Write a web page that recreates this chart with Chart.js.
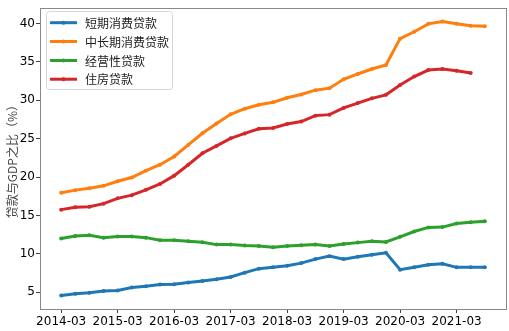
<!DOCTYPE html>
<html>
<head>
<meta charset="utf-8">
<script src="https://cdn.jsdelivr.net/npm/chart.js@4/dist/chart.umd.min.js"></script>
<style>
html,body{margin:0;padding:0;background:#fff;}
#wrap{width:509px;height:331px;position:relative;}
</style>
</head>
<body>
<div id="wrap"><canvas id="c" width="509" height="331"></canvas></div>
<script>
const quarters = [
  '2014-03','2014-06','2014-09','2014-12',
  '2015-03','2015-06','2015-09','2015-12',
  '2016-03','2016-06','2016-09','2016-12',
  '2017-03','2017-06','2017-09','2017-12',
  '2018-03','2018-06','2018-09','2018-12',
  '2019-03','2019-06','2019-09','2019-12',
  '2020-03','2020-06','2020-09','2020-12',
  '2021-03','2021-06','2021-09'
];
const tickLabels = ['2014-03','2015-03','2016-03','2017-03','2018-03','2019-03','2020-03','2021-03'];
const yTicks = [5,10,15,20,25,30,35,40];

const seriesNames = ['短期消费贷款','中长期消费贷款','经营性贷款','住房贷款'];
const shortTerm = [4.57,4.78,4.91,5.13,5.21,5.60,5.77,5.99,6.03,6.25,6.46,6.68,6.98,7.54,8.06,8.23,8.44,8.78,9.30,9.69,9.30,9.60,9.86,10.12,7.93,8.23,8.57,8.70,8.23,8.23,8.23];
const longTerm = [17.94,18.29,18.55,18.85,19.45,19.93,20.83,21.60,22.67,24.18,25.70,26.97,28.18,28.90,29.42,29.73,30.33,30.76,31.32,31.58,32.74,33.43,34.07,34.59,38.03,38.93,39.96,40.26,39.96,39.70,39.66];
const business = [12.00,12.31,12.40,12.10,12.26,12.26,12.10,11.75,11.75,11.62,11.49,11.19,11.19,11.06,11.02,10.85,11.02,11.10,11.19,11.00,11.28,11.45,11.62,11.54,12.20,12.90,13.43,13.47,13.94,14.12,14.25];
const housing = [15.75,16.06,16.14,16.53,17.22,17.64,18.33,19.10,20.18,21.60,23.10,24.05,25.04,25.68,26.29,26.38,26.90,27.23,28.00,28.13,29.00,29.64,30.25,30.71,32.00,33.09,33.94,34.07,33.86,33.55];

const colors = ['#1f77b4','#ff7f0e','#2ca02c','#d62728'];
const allSeries = [shortTerm, longTerm, business, housing];

const datasets = allSeries.map((vals, k) => ({
  label: seriesNames[k],
  data: vals.map((v, i) => ({x: i, y: v})),
  borderColor: colors[k],
  backgroundColor: colors[k],
  borderWidth: 3,
  pointRadius: 2,
  pointHoverRadius: 2,
  pointBorderWidth: 0,
  pointStyle: 'circle',
  tension: 0,
  fill: false
}));

const framePlugin = {
  id: 'frame',
  afterDraw(chart) {
    const {ctx, chartArea: a} = chart;
    ctx.save();
    ctx.strokeStyle = '#888';
    ctx.lineWidth = 1;
    ctx.strokeRect(Math.round(a.left) + 0.5, Math.round(a.top) + 0.5, Math.round(a.right - a.left), Math.round(a.bottom - a.top));
    // legend
    const lx = 46.5, ly = 11.5, lw = 126, lh = 78, r = 3;
    ctx.beginPath();
    ctx.moveTo(lx + r, ly);
    ctx.arcTo(lx + lw, ly, lx + lw, ly + lh, r);
    ctx.arcTo(lx + lw, ly + lh, lx, ly + lh, r);
    ctx.arcTo(lx, ly + lh, lx, ly, r);
    ctx.arcTo(lx, ly, lx + lw, ly, r);
    ctx.closePath();
    ctx.fillStyle = 'rgba(255,255,255,0.8)';
    ctx.fill();
    ctx.strokeStyle = '#d6d6d6';
    ctx.stroke();
    const rows = [22.7, 41.5, 60.5, 79.2];
    ctx.font = '12px "Noto Sans CJK SC", sans-serif';
    ctx.textBaseline = 'middle';
    ctx.textAlign = 'left';
    seriesNames.forEach((name, k) => {
      const y = rows[k];
      ctx.strokeStyle = colors[k];
      ctx.lineWidth = 3;
      ctx.beginPath();
      ctx.moveTo(50, y);
      ctx.lineTo(77, y);
      ctx.stroke();
      ctx.fillStyle = colors[k];
      ctx.beginPath();
      ctx.arc(63.5, y, 2, 0, Math.PI * 2);
      ctx.fill();
      ctx.fillStyle = '#222';
      ctx.fillText(name, 85, y + 0.5);
    });
    ctx.restore();
  }
};

new Chart(document.getElementById('c'), {
  type: 'line',
  data: { datasets },
  plugins: [framePlugin],
  options: {
    responsive: false,
    animation: false,
    events: [],
    layout: { padding: { left: 0, right: 3, top: 5, bottom: 0 } },
    plugins: { legend: { display: false }, tooltip: { enabled: false } },
    scales: {
      x: {
        type: 'linear',
        min: -1.5,
        max: 31.5,
        afterBuildTicks(scale) { scale.ticks = tickLabels.map(t => ({ value: quarters.indexOf(t) })); },
        afterFit(scale) { scale.height = 22; },
        ticks: {
          autoSkip: false,
          maxRotation: 0,
          padding: 2,
          color: '#000',
          font: { family: '"DejaVu Sans"', size: 12 },
          callback: (v) => quarters[v]
        },
        grid: { display: true, drawOnChartArea: false, drawTicks: true, tickLength: 4, color: '#444' },
        border: { display: true, color: '#888' }
      },
      y: {
        type: 'linear',
        min: 2.8,
        max: 42.0,
        afterBuildTicks(scale) { scale.ticks = yTicks.map(v => ({ value: v })); },
        afterFit(scale) { scale.width = 40; },
        ticks: {
          padding: 1,
          color: '#000',
          font: { family: '"DejaVu Sans"', size: 12 }
        },
        grid: { display: true, drawOnChartArea: false, drawTicks: true, tickLength: 4, color: '#444' },
        border: { display: true, color: '#888' },
        title: {
          display: true,
          text: '贷款与GDP之比（%）',
          color: '#444',
          padding: { top: 5, bottom: 0 },
          font: { family: '"Noto Sans CJK SC"', size: 12 }
        }
      }
    }
  }
});
</script>
</body>
</html>
